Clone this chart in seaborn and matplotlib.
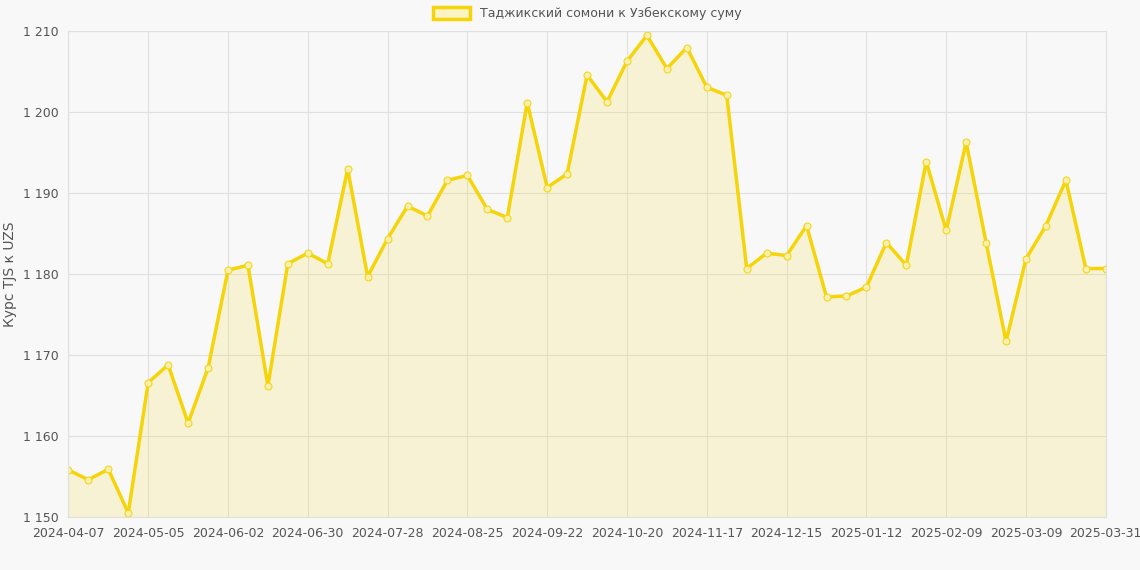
import pandas as pd
import matplotlib.pyplot as plt
import matplotlib.ticker as mticker
from matplotlib.patches import Patch
import seaborn as sns

# --- DADOS ---
dates = pd.date_range("2024-04-07", periods=52, freq="7D").strftime("%Y-%m-%d").tolist() + ["2025-03-31"]
rates = [1155.8, 1154.6, 1155.9, 1150.5, 1166.6, 1168.8, 1161.6, 1168.4, 1180.5, 1181.1,
         1166.2, 1181.3, 1182.6, 1181.3, 1193.0, 1179.7, 1184.4, 1188.4, 1187.2, 1191.6,
         1192.2, 1188.0, 1187.0, 1201.2, 1190.7, 1192.4, 1204.6, 1201.3, 1206.3, 1209.5,
         1205.4, 1208.0, 1203.1, 1202.1, 1180.7, 1182.6, 1182.3, 1186.0, 1177.2, 1177.3,
         1178.4, 1183.9, 1181.1, 1193.9, 1185.4, 1196.3, 1183.9, 1171.7, 1181.9, 1186.0,
         1191.6, 1180.7, 1180.7]
label = "Таджикский сомони к Узбекскому суму"
LINE = "#f5d50a"

df = pd.DataFrame({"x": range(len(rates)), "rate": rates})

sns.set_style("whitegrid")
plt.rcParams['font.family'] = ['DejaVu Sans']
fig, ax = plt.subplots(figsize=(11.4, 5.7), dpi=100)
fig.patch.set_facecolor("#f8f8f8")
ax.set_facecolor("#f8f8f8")

ax.fill_between(df["x"], 1150, df["rate"], color=LINE, alpha=0.15, linewidth=0)
sns.lineplot(data=df, x="x", y="rate", ax=ax, color=LINE, linewidth=2.5, legend=False,
             marker="o", markersize=5, markerfacecolor="#f8f0b0", markeredgecolor=LINE)

ax.set_xlim(0, len(rates) - 1)
ax.set_ylim(1150, 1210)
ticks = list(range(0, 52, 4)) + [52]
ax.set_xticks(ticks)
ax.set_xticklabels([dates[i] for i in ticks], fontsize=9, color="#555")
ax.yaxis.set_major_locator(mticker.MultipleLocator(10))
ax.yaxis.set_major_formatter(mticker.FuncFormatter(lambda v, p: f"{int(v):,}".replace(",", " ")))
ax.tick_params(axis="y", labelsize=9, colors="#555")
ax.set_xlabel("")
ax.set_ylabel("Курс TJS к UZS", fontsize=10, color="#555")
ax.grid(color="#e0e0e0", linewidth=0.8)
for s in ax.spines.values():
    s.set_color("#e0e0e0")

handle = Patch(facecolor="#faf3c4", edgecolor=LINE, linewidth=2.5, label=label)
ax.legend(handles=[handle], loc="lower center", bbox_to_anchor=(0.5, 1.0), frameon=False,
          fontsize=9, handlelength=3, handleheight=1.1, labelcolor="#555")
fig.subplots_adjust(left=0.06, right=0.97, top=0.945, bottom=0.093)
plt.savefig("out.png")
